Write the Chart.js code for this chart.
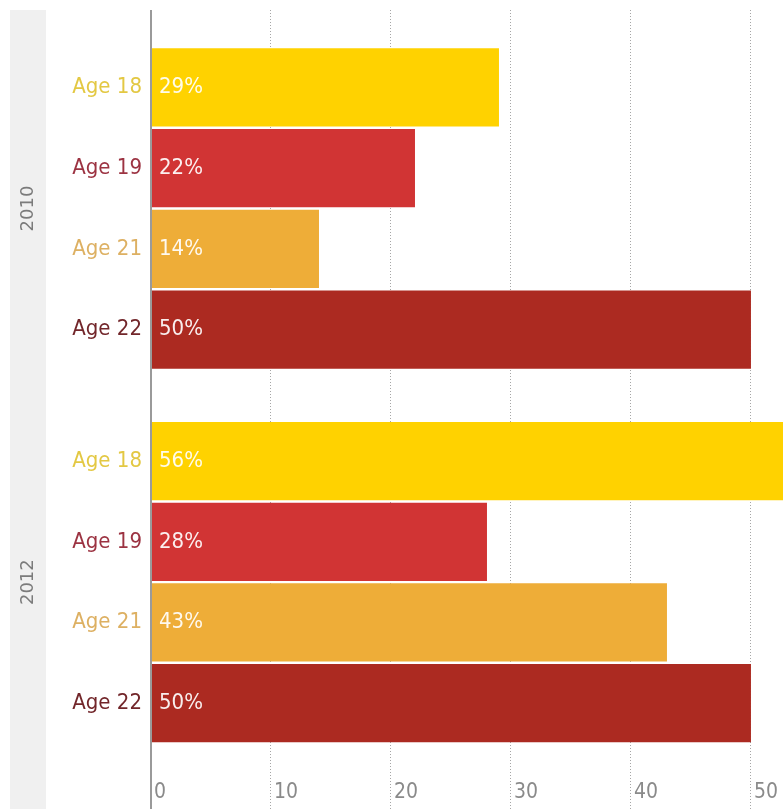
<!DOCTYPE html>
<html>
<head>
<meta charset="utf-8">
<title>Share by age group, 2010 and 2012</title>
<script src="https://cdn.jsdelivr.net/npm/chart.js@4.4.1/dist/chart.umd.min.js"></script>
<style>
  html, body { margin: 0; padding: 0; background: #ffffff; }
  #wrap { position: relative; width: 783px; height: 809px; }
</style>
</head>
<body>
<div id="wrap"><canvas id="chart" width="783" height="809"></canvas></div>
<script>
// ---- data ----
const years = ['2010', '2012'];
const ageGroups = ['Age 18', 'Age 19', 'Age 21', 'Age 22'];
const share2010 = [29, 22, 14, 50];
const share2012 = [56, 28, 43, 50];
const xTickValues = [0, 10, 20, 30, 40, 50];

// ---- styling ----
const barColors   = ['#FFD200', '#D13434', '#EEAD38', '#AC2A21'];
const labelColors = ['#E3C843', '#9C3342', '#DDB062', '#72262A'];
const GROUP_GAP = 0.63;           // extra space between the two year blocks, in rows
const FONT = "'DejaVu Sans', sans-serif";
const NARROW = "'DejaVu Sans Condensed', 'DejaVu Sans', sans-serif";

Chart.defaults.font.family = FONT;

// one row per (year, age) pair; the slot is the row's place on the index axis
const seriesByYear = [share2010, share2012];
const rowsPerYear = ageGroups.length + GROUP_GAP;
const rows = [];
years.forEach((year, g) => {
  ageGroups.forEach((age, a) => {
    rows.push({ year, age, ageIndex: a, value: seriesByYear[g][a], slot: g * rowsPerYear + a });
  });
});
const lastSlot = rows[rows.length - 1].slot;

// grey band with the rotated year captions
const yearBand = {
  id: 'yearBand',
  beforeDraw(chart) {
    const { ctx } = chart;
    ctx.save();
    ctx.fillStyle = '#f0f0f0';
    ctx.fillRect(10, 10, 36, chart.height - 10);
    ctx.restore();
  },
  afterDraw(chart) {
    const { ctx } = chart;
    const yScale = chart.scales.y;
    ctx.save();
    ctx.fillStyle = '#7b7b7b';
    ctx.font = '18px ' + FONT;
    ctx.textAlign = 'center';
    ctx.textBaseline = 'middle';
    years.forEach((year, g) => {
      const mid = g * rowsPerYear + (ageGroups.length - 1) / 2;
      const py = yScale.getPixelForValue(mid);
      ctx.save();
      ctx.translate(28, py);
      ctx.rotate(-Math.PI / 2);
      ctx.fillText(year, 0, 0);
      ctx.restore();
    });
    ctx.restore();
  }
};

// percentage written at the start of each bar
const valueLabels = {
  id: 'valueLabels',
  afterDatasetsDraw(chart) {
    const { ctx } = chart;
    const meta = chart.getDatasetMeta(0);
    ctx.save();
    ctx.fillStyle = 'rgba(255,255,255,0.92)';
    ctx.font = '22px ' + NARROW;
    ctx.textAlign = 'left';
    ctx.textBaseline = 'middle';
    meta.data.forEach((bar, i) => {
      ctx.fillText(rows[i].value + '%', bar.base + 7, bar.y);
    });
    ctx.restore();
  }
};

const isZero = (c) => c.index === 0;

new Chart(document.getElementById('chart'), {
  type: 'bar',
  data: {
    datasets: [{
      data: rows.map(r => ({ x: r.value, y: r.slot })),
      backgroundColor: rows.map(r => barColors[r.ageIndex]),
      borderWidth: 0,
      barPercentage: 0.97,
      categoryPercentage: 1
    }]
  },
  options: {
    indexAxis: 'y',
    responsive: false,
    animation: false,
    layout: { padding: { top: 10, left: 0, right: 0, bottom: 0 } },
    plugins: {
      legend: { display: false },
      tooltip: { enabled: false },
      title: { display: false }
    },
    scales: {
      x: {
        type: 'linear',
        position: 'bottom',
        bounds: 'data',
        offset: false,
        min: 0,
        max: 52.67,
        afterBuildTicks(scale) {
          scale.ticks = xTickValues.map(v => ({ value: v }));
        },
        afterFit(scale) {
          scale.height = 34;
          scale.paddingLeft = 0;
          scale.paddingRight = 0;
        },
        grid: {
          offset: false,
          drawOnChartArea: true,
          drawTicks: true,
          tickLength: 34,
          color: (c) => isZero(c) ? '#9a9a9a' : '#a6a6a6',
          lineWidth: (c) => isZero(c) ? 2 : 1,
          tickColor: (c) => isZero(c) ? '#9a9a9a' : '#a6a6a6',
          tickWidth: (c) => isZero(c) ? 2 : 1,
          tickBorderDash: (c) => isZero(c) ? [] : [1, 2],
          borderDash: (c) => isZero(c) ? [] : [1, 2]
        },
        border: {
          display: false,
          dash: (c) => isZero(c) ? [] : [1, 2]
        },
        ticks: {
          align: 'start',
          labelOffset: 3,
          padding: -29,
          maxRotation: 0,
          autoSkip: false,
          color: '#8a8a8a',
          font: { size: 21, family: NARROW },
          callback: (v) => String(v)
        }
      },
      y: {
        type: 'linear',
        reverse: true,
        bounds: 'data',
        offset: false,
        min: -0.96,
        max: lastSlot + 0.89,
        afterBuildTicks(scale) {
          scale.ticks = rows.map(r => ({ value: r.slot }));
        },
        afterFit(scale) {
          scale.width = 151;
          scale.paddingTop = 0;
          scale.paddingBottom = 0;
        },
        grid: { display: false, drawTicks: false, offset: false },
        border: { display: false },
        ticks: {
          padding: 9,
          autoSkip: false,
          font: { size: 22, family: NARROW },
          color: (c) => labelColors[rows[c.index] ? rows[c.index].ageIndex : 0],
          callback: (v, i) => rows[i] ? rows[i].age : ''
        }
      }
    }
  },
  plugins: [yearBand, valueLabels]
});
</script>
</body>
</html>
